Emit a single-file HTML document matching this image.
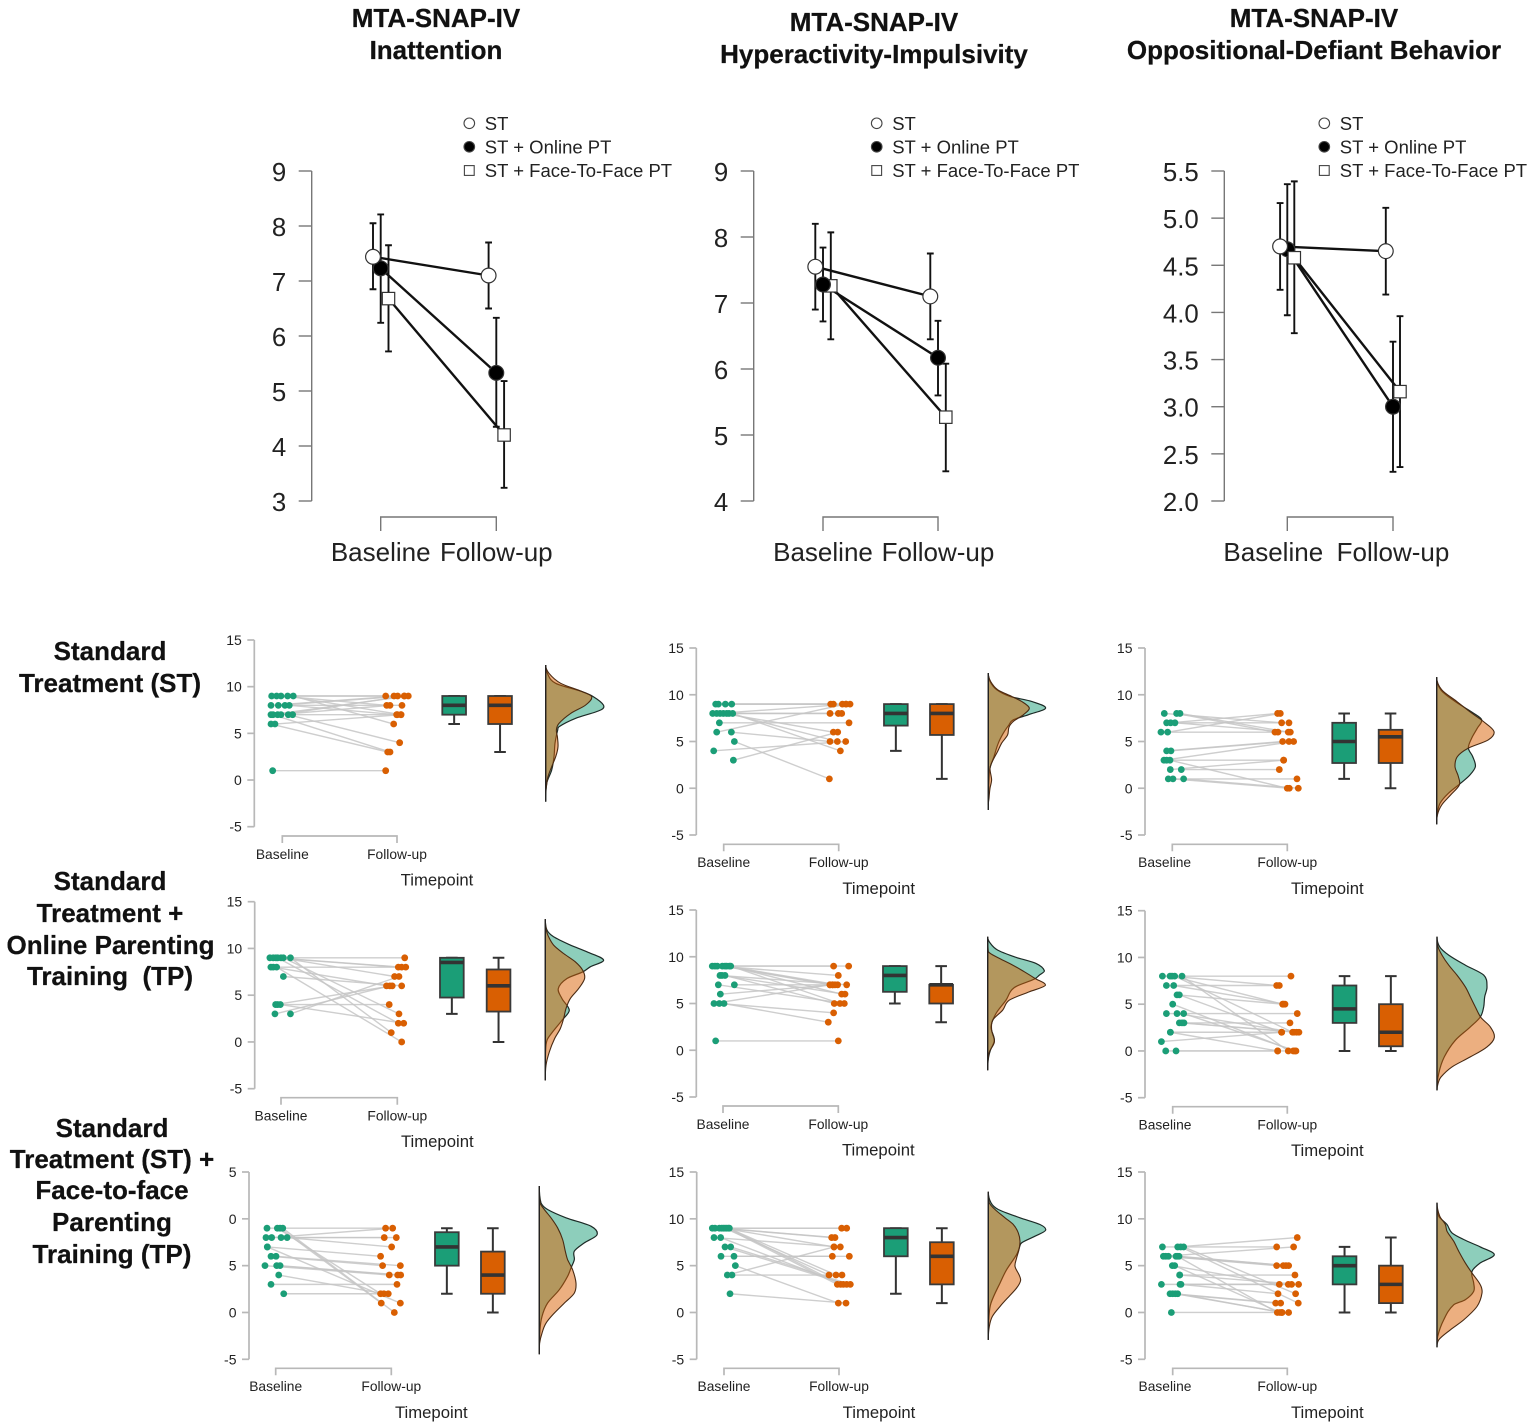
<!DOCTYPE html>
<html lang="en">
<head>
<meta charset="utf-8">
<title>MTA-SNAP-IV outcomes by treatment group</title>
<style>
html,body{margin:0;padding:0;background:#fff;}
svg{display:block;font-family:"Liberation Sans",Arial,sans-serif;}
.head{font-weight:bold;font-size:26px;fill:#111;stroke:#111;stroke-width:.25px;text-anchor:middle;white-space:pre;}
</style>
</head>
<body>
<svg id="figure" width="1535" height="1427" viewBox="0 0 1535 1427" xmlns="http://www.w3.org/2000/svg">
  <rect width="1535" height="1427" fill="#fff"/>
  <g>
    <text class="head" x="436" y="27">MTA-SNAP-IV</text>
    <text class="head" x="436" y="59">Inattention</text>
    <text class="head" x="874" y="31">MTA-SNAP-IV</text>
    <text class="head" x="874" y="63">Hyperactivity-Impulsivity</text>
    <text class="head" x="1314" y="27">MTA-SNAP-IV</text>
    <text class="head" x="1314" y="59">Oppositional-Defiant Behavior</text>
  </g>
  <g>
    <text class="head" x="110" y="660">Standard</text>
    <text class="head" x="110" y="692">Treatment (ST)</text>
    <text class="head" x="110" y="890">Standard</text>
    <text class="head" x="110" y="922">Treatment +</text>
    <text class="head" x="110.5" y="954">Online Parenting</text>
    <text class="head" x="110" y="985">Training  (TP)</text>
    <text class="head" x="112" y="1137">Standard</text>
    <text class="head" x="112" y="1168">Treatment (ST) +</text>
    <text class="head" x="112" y="1199">Face-to-face</text>
    <text class="head" x="112" y="1231">Parenting</text>
    <text class="head" x="112" y="1263">Training (TP)</text>
  </g>
</svg>
<script>
/* ---------- Top row: group means with error bars ---------- */
const timepoints = ['Baseline', 'Follow-up'];
const legendLabels = ['ST', 'ST + Online PT', 'ST + Face-To-Face PT'];

const inattTicks = [3, 4, 5, 6, 7, 8, 9];
const inattTickLabels = ['3', '4', '5', '6', '7', '8', '9'];
const inattSt = [7.44, 7.10];
const inattStLow = [6.85, 6.50];
const inattStHigh = [8.05, 7.70];
const inattOnline = [7.23, 5.33];
const inattOnlineLow = [6.24, 4.35];
const inattOnlineHigh = [8.21, 6.33];
const inattF2f = [6.68, 4.20];
const inattF2fLow = [5.72, 3.24];
const inattF2fHigh = [7.65, 5.18];

const hyperTicks = [4, 5, 6, 7, 8, 9];
const hyperTickLabels = ['4', '5', '6', '7', '8', '9'];
const hyperSt = [7.55, 7.10];
const hyperStLow = [6.90, 6.45];
const hyperStHigh = [8.20, 7.75];
const hyperOnline = [7.28, 6.17];
const hyperOnlineLow = [6.72, 5.60];
const hyperOnlineHigh = [7.84, 6.73];
const hyperF2f = [7.26, 5.27];
const hyperF2fLow = [6.45, 4.45];
const hyperF2fHigh = [8.07, 6.08];

const oppTicks = [2, 2.5, 3, 3.5, 4, 4.5, 5, 5.5];
const oppTickLabels = ['2.0', '2.5', '3.0', '3.5', '4.0', '4.5', '5.0', '5.5'];
const oppSt = [4.70, 4.65];
const oppStLow = [4.24, 4.19];
const oppStHigh = [5.16, 5.11];
const oppOnline = [4.67, 3.00];
const oppOnlineLow = [3.97, 2.31];
const oppOnlineHigh = [5.36, 3.69];
const oppF2f = [4.58, 3.16];
const oppF2fLow = [3.78, 2.36];
const oppF2fHigh = [5.39, 3.96];

/* ---------- Lower rows: raincloud plots ---------- */
const cloudTicks = [-5, 0, 5, 10, 15];
const cloudTickLabels = ['-5', '0', '5', '10', '15'];
const clippedTickLabels = ['-5', '0', '5', '0', '5'];
const jitterUnitsPerTimepoint = 345;

/* r1c1: ST, inattention */
const r1c1BaseScores = [9,9,9,9,9,8,8,8,8,7,7,7,7,7,6,7,6,1];
const r1c1BaseJitter = [-32,-17,-4,16,33,-34,-12,8,21,-34,-14,-4,18,31,-34,-28,-22,-29];
const r1c1FollowScores = [9,9,8,7,6,9,9,8,7,9,8,9,4,7,3,3,7,1];
const r1c1FollowJitter = [-34,-9,-31,12,-10,2,22,15,-1,34,-21,22,8,1,-28,-21,12,-34];
const r1c1BaseBox = [6,7,8,9,9];
const r1c1FollowBox = [3,6,8,9,9];
const r1c1BaseLevels = [12.32,11.43,10.36,9.46,8.93,8.04,7.5,6.61,5.71,5.36,3.93,2.5,1.07,-0.36,-2.32];
const r1c1BaseDensity = [0,.05,.30,1.10,1.43,1.73,1.65,.90,.40,.36,.28,.25,.18,.03,0];
const r1c1FollowLevels = [12.32,11.43,10.36,9.46,8.93,8.04,7.14,6.07,5.36,4.64,3.57,2.5,1.43,.36,-.71,-1.43];
const r1c1FollowDensity = [0,.10,.45,1.10,1.38,1.20,.75,.40,.32,.35,.37,.30,.18,.07,.02,0];

/* r1c2: ST, hyperactivity */
const r1c2BaseScores = [9,9,9,9,8,8,8,8,8,8,8,7,6,6,5,4,3];
const r1c2BaseJitter = [-24,-16,5,24,-33,-21,-11,-1,16,27,9,-13,-21,23,32,-30,29];
const r1c2FollowScores = [9,9,9,9,8,9,8,6,5,4,8,7,9,5,1,5,6];
const r1c2FollowJitter = [-24,-16,11,22,-26,34,-1,-16,-4,5,9,31,22,-26,-28,21,-3];
const r1c2BaseBox = [4,6.7,8,9,9];
const r1c2FollowBox = [1,5.7,8,9,9];
const r1c2BaseLevels = [12.32,11.43,10.54,9.82,9.29,8.57,7.86,7.32,6.79,5.89,4.82,3.39,2.14,.89,-.54,-2.32];
const r1c2BaseDensity = [0,.05,.25,.65,1.30,1.72,1.20,.75,.62,.45,.30,.17,.05,.02,.01,0];
const r1c2FollowLevels = [12.32,11.43,10.54,9.82,9.29,8.57,7.86,7.14,6.54,5.71,4.82,3.93,2.86,2.14,.89,0,-1.07,-1.79];
const r1c2FollowDensity = [0,.07,.28,.70,1.0,1.23,1.05,.75,.62,.58,.40,.28,.12,.05,.10,.05,.02,0];

/* r1c3: ST, oppositional */
const r1c3BaseScores = [8,8,8,7,7,7,6,6,4,4,3,3,3,2,2,1,1,1];
const r1c3BaseJitter = [-24,13,23,-17,-5,8,-34,-14,-17,-4,-25,-17,-7,-6,27,-12,2,34];
const r1c3FollowScores = [7,6,6,7,8,6,6,8,5,5,5,3,0,3,2,1,0,0];
const r1c3FollowJitter = [-17,-37,3,5,-29,9,-28,-21,-14,5,19,-11,0,-11,-24,29,6,33];
const r1c3BaseBox = [1,2.7,5,7,8];
const r1c3FollowBox = [0,2.7,5.5,6.25,8];
const r1c3BaseLevels = [11.89,10.54,9.29,8.04,7.32,6.43,5.36,4.29,3.39,2.32,1.43,.54,-.54,-1.61,-2.68,-3.86];
const r1c3BaseDensity = [0,.12,.55,1.10,1.35,1.22,1.05,.95,1.08,1.16,1.0,.72,.35,.10,.02,0];
const r1c3FollowLevels = [11.89,10.54,9.29,8.04,7.14,6.07,5.18,4.29,3.39,2.32,1.25,.36,-.71,-1.79,-2.86,-3.86];
const r1c3FollowDensity = [0,.15,.60,1.05,1.40,1.72,1.55,.95,.62,.55,.65,.68,.42,.15,.02,0];

/* r2c1: online, inattention */
const r2c1BaseScores = [9,9,9,9,9,9,9,8,8,8,7,4,4,4,3,3];
const r2c1BaseJitter = [-33,-23,-15,0,7,28,-10,-30,-23,-13,7,-16,-10,-2,-18,28];
const r2c1FollowScores = [9,8,8,7,3,1,2,8,6,0,6,6,4,2,6,7];
const r2c1FollowJitter = [22,3,13,-8,5,-18,3,25,-32,13,13,-15,-24,19,-22,5];
const r2c1BaseBox = [3,4.75,8.5,9,9];
const r2c1FollowBox = [0,3.25,6,7.75,9];
const r2c1BaseLevels = [13.14,11.96,11.25,10.36,9.64,8.75,8.04,7.5,6.79,5.71,4.64,3.39,2.32,1.07,.18,-1.07,-4.11];
const r2c1BaseDensity = [0,.05,.25,.75,1.25,1.75,1.35,1.13,.65,.39,.50,.72,.50,.22,.05,.01,0];
const r2c1FollowLevels = [13.14,11.96,11.25,10.36,9.46,8.57,7.68,6.79,5.71,4.64,3.57,2.5,1.43,.36,-1.07,-2.5,-4.11];
const r2c1FollowDensity = [0,.03,.10,.25,.55,.90,1.12,1.18,1.0,.75,.62,.55,.45,.28,.12,.02,0];

/* r2c2: online, hyperactivity */
const r2c2BaseScores = [9,9,9,9,9,9,9,9,8,8,8,7,7,6,5,5,5,1];
const r2c2BaseJitter = [-32,-24,-17,-2,6,11,19,23,-9,-3,6,-14,34,-8,-27,-11,3,-22];
const r2c2FollowScores = [9,9,8,7,7,7,6,5,7,6,5,5,7,7,7,4,3,1];
const r2c2FollowJitter = [-14,31,0,-25,-17,-2,10,5,25,20,-12,18,-10,-17,-25,-14,-30,0];
const r2c2BaseBox = [5,6.25,8,9,9];
const r2c2FollowBox = [3,5,7,7,9];
const r2c2BaseLevels = [12.14,11.43,10.71,10,9.29,8.5,8.04,7.61,6.71,5.36,3.93,2.5,1.07,0,-.89,-2.14];
const r2c2BaseDensity = [0,.08,.30,.80,1.45,1.70,1.55,1.40,.80,.55,.25,.10,.20,.08,.02,0];
const r2c2FollowLevels = [12.14,10.54,9.82,9.11,8.39,7.68,6.96,6.25,5.36,4.29,3.21,2.14,.89,-.18,-1.07,-2.14];
const r2c2FollowDensity = [0,.02,.35,.75,1.10,1.42,1.73,1.25,.65,.45,.15,.12,.20,.05,.01,0];

/* r2c3: online, oppositional */
const r2c3BaseScores = [8,8,8,8,8,7,7,6,6,5,4,4,4,3,3,3,2,2,1,0,0];
const r2c3BaseJitter = [-31,-8,-2,6,28,-19,3,13,20,0,-19,13,33,20,28,34,-7,-7,-34,-21,10];
const r2c3FollowScores = [8,7,5,2,0,7,5,5,2,0,4,2,0,3,2,2,2,0,2,0,0];
const r2c3FollowJitter = [11,-32,-14,16,3,-24,-7,-12,-17,18,30,20,26,8,28,35,-17,-29,-17,-29,23];
const r2c3BaseBox = [0,3,4.5,7,8];
const r2c3FollowBox = [0,.5,2,5,8];
const r2c3BaseLevels = [12.21,11.14,10.25,9.18,8.11,6.86,5.79,4.71,3.64,2.57,1.14,-.64,-2.43,-4.21];
const r2c3BaseDensity = [0,.08,.35,.85,1.40,1.50,1.43,1.40,1.30,1.0,.55,.22,.05,0];
const r2c3FollowLevels = [12.21,11.14,10.25,9.18,8.11,6.86,5.79,4.71,3.57,2.57,1.43,.43,-.64,-1.71,-2.79,-3.5,-4.21];
const r2c3FollowDensity = [0,.03,.15,.35,.60,.85,1.0,1.15,1.32,1.60,1.72,1.50,1.0,.45,.12,.03,0];

/* r3c1: face-to-face, inattention */
const r3c1BaseScores = [9,9,9,9,8,8,8,8,7,7,6,6,5,5,5,4,3,2];
const r3c1BaseJitter = [-26,5,13,21,-29,-12,16,34,-25,-25,-14,1,-32,3,13,9,-14,24];
const r3c1FollowScores = [9,2,1,0,8,9,8,7,1,6,5,5,4,4,4,2,3,2];
const r3c1FollowJitter = [-17,-32,-30,9,-21,4,15,1,27,-32,-26,27,-6,19,28,-22,17,-9];
const r3c1BaseBox = [2,5,7,8.57,9];
const r3c1FollowBox = [0,2,4,6.5,9];
const r3c1BaseLevels = [13.5,11.71,11,10.11,9.21,8.29,7.43,6.54,5.64,4.75,3.86,2.43,1,-.43,-1.86,-4.46];
const r3c1BaseDensity = [0,.05,.25,.80,1.55,1.73,1.35,1.05,1.05,.95,.85,.60,.25,.08,.02,0];
const r3c1FollowLevels = [13.5,11.71,11,10.11,9.04,7.79,6.54,5.64,4.57,3.14,2.07,1,-.07,-1.14,-2.21,-3.29,-4.46];
const r3c1FollowDensity = [0,.02,.15,.35,.55,.70,.78,.85,1.0,1.10,1.05,.75,.45,.20,.08,.01,0];

/* r3c2: face-to-face, hyperactivity */
const r3c2BaseScores = [9,9,9,9,9,9,9,9,9,8,8,7,7,6,6,5,4,4,2];
const r3c2BaseJitter = [-35,-27,-14,-7,-2,3,8,13,16,-30,-10,3,20,-9,30,34,10,24,18];
const r3c2FollowScores = [9,9,8,8,7,4,3,4,3,7,3,3,3,6,6,1,7,4,1];
const r3c2FollowJitter = [8,23,-22,-12,-15,-30,-5,-9,5,4,13,23,34,-20,31,-2,-15,9,21];
const r3c2BaseBox = [2,6,8,9,9];
const r3c2FollowBox = [1,3,6,7.5,9];
const r3c2BaseLevels = [12.89,11.71,11,10.11,9.39,8.79,8.14,7.43,6.89,6.18,4.57,3.14,1,-.43,-2.93];
const r3c2BaseDensity = [0,.08,.30,.95,1.55,1.72,1.40,1.0,.93,.85,.55,.35,.08,.02,0];
const r3c2FollowLevels = [12.89,11.71,11,10.11,9.39,8.5,7.61,6.71,5.82,4.93,4.04,3.43,2.61,1.71,.64,-.43,-1.5,-2.93];
const r3c2FollowDensity = [0,.03,.20,.50,.75,.90,.95,.92,.85,.80,.92,.97,.85,.62,.35,.12,.03,0];

/* r3c3: face-to-face, oppositional */
const r3c3BaseScores = [7,7,7,7,6,6,6,6,6,6,5,5,4,4,3,3,3,2,2,2,2,0];
const r3c3BaseJitter = [-31,15,33,24,-28,-21,-13,10,19,14,-1,6,21,21,-34,22,25,-8,0,8,15,-4];
const r3c3FollowScores = [7,8,2,1,7,5,5,5,5,0,3,0,4,3,3,3,2,1,1,0,0,0];
const r3c3FollowJitter = [-32,30,25,33,19,-32,-12,-4,4,-30,-24,-22,23,34,3,13,-28,-35,-20,-16,-16,4];
const r3c3BaseBox = [0,3,5,6,7];
const r3c3FollowBox = [0,1,3,5,8];
const r3c3BaseLevels = [11.71,10.29,9.39,8.5,7.79,7,6.18,5.29,4.39,3.14,2.25,1.36,.82,-.79,-2.57,-3.71];
const r3c3BaseDensity = [0,.05,.30,.45,.80,1.30,1.72,1.30,1.05,1.10,1.10,.85,.50,.20,.02,0];
const r3c3FollowLevels = [11.71,10.29,9.39,8.68,7.61,6.54,5.29,4.21,2.96,2.07,.64,-.79,-1.86,-2.93,-3.71];
const r3c3FollowDensity = [0,.08,.25,.30,.50,.65,.85,1.05,1.30,1.35,1.20,.80,.40,.05,0];

/* ---------- Drawing ---------- */
const SVG_NS = 'http://www.w3.org/2000/svg';
const TEAL = '#1b9e77';
const ORANGE = '#d95f02';
const figure = document.getElementById('figure');

function make(parent, tag, attrs, text) {
  const el = document.createElementNS(SVG_NS, tag);
  for (const k in attrs) el.setAttribute(k, attrs[k]);
  if (text !== undefined) el.textContent = text;
  parent.appendChild(el);
  return el;
}
function linearScale(d0, d1, r0, r1) {
  return v => r0 + (v - d0) * (r1 - r0) / (d1 - d0);
}
/* Cubic Hermite curve through the sampled density, treated as width = f(y). */
function smoothPath(levels, density, yOf, widthOf) {
  const ys = levels.map(yOf);
  const ws = density.map(widthOf);
  const n = ys.length;
  const floor = widthOf(0);
  const slope = ys.map((_, i) => (i === 0 || i === n - 1) ? 0 : (ws[i + 1] - ws[i - 1]) / (ys[i + 1] - ys[i - 1]));
  let d = 'M' + ws[0].toFixed(1) + ' ' + ys[0].toFixed(1);
  for (let i = 0; i < n - 1; i++) {
    const h = ys[i + 1] - ys[i];
    const c1x = Math.max(floor, ws[i] + slope[i] * h / 3);
    const c2x = Math.max(floor, ws[i + 1] - slope[i + 1] * h / 3);
    d += 'C' + c1x.toFixed(1) + ' ' + (ys[i] + h / 3).toFixed(1) + ' ' + c2x.toFixed(1) + ' ' + (ys[i + 1] - h / 3).toFixed(1) + ' ' + ws[i + 1].toFixed(1) + ' ' + ys[i + 1].toFixed(1);
  }
  return d;
}

function drawMeansPanel(name, layout, ticks, tickLabels, groups) {
  const g = make(figure, 'g', {});
  
  
  const y = linearScale(ticks[0], ticks[ticks.length - 1], 501, 171);
  const x = linearScale(0, 1, layout.tick0, layout.tick1);
  const axisColor = '#777';

  const yAxis = make(g, 'line', {x1: layout.axisX, x2: layout.axisX, y1: y(ticks[0]), y2: y(ticks[ticks.length - 1]), stroke: axisColor, 'stroke-width': 1.4});
  
  
  ticks.forEach((t, i) => {
    const tick = make(g, 'line', {x1: layout.axisX - 13, x2: layout.axisX, y1: y(t), y2: y(t), stroke: axisColor, 'stroke-width': 1.4});
    
    
    const label = make(g, 'text', {x: layout.axisX - 25.5, y: y(t) + 10, 'text-anchor': 'end', 'font-size': 25.8, fill: '#222'}, tickLabels[i]);
    
    
  });

  const xAxis = make(g, 'path', {d: 'M' + x(0) + ' 531V517H' + x(1) + 'V531', fill: 'none', stroke: axisColor, 'stroke-width': 1.4});
  
  
  timepoints.forEach((t, i) => {
    const label = make(g, 'text', {x: x(i) + (i === 0 ? layout.baseLabelShift : 0), y: 561, 'text-anchor': 'middle', 'font-size': 26, fill: '#222'}, t);
    
    
  });

  /* error bars */
  groups.forEach(gr => {
    gr.means.forEach((m, i) => {
      const px = x(i) + gr.offset;
      const bar = make(g, 'path', {
        d: 'M' + px + ' ' + y(gr.low[i]) + 'V' + y(gr.high[i]) +
           'M' + (px - 3.4) + ' ' + y(gr.low[i]) + 'H' + (px + 3.4) +
           'M' + (px - 3.4) + ' ' + y(gr.high[i]) + 'H' + (px + 3.4),
        fill: 'none', stroke: '#111', 'stroke-width': 1.9});
      
      
    });
  });
  /* group lines */
  groups.forEach(gr => {
    const ln = make(g, 'line', {x1: x(0) + gr.offset, y1: y(gr.means[0]), x2: x(1) + gr.offset, y2: y(gr.means[1]), stroke: '#111', 'stroke-width': 2.4});
    
    
  });
  /* markers */
  groups.slice().sort((a, b) => a.order - b.order).forEach(gr => {
    gr.means.forEach((m, i) => {
      const px = x(i) + gr.offset, py = y(m);
      let mk;
      if (gr.shape === 'square') {
        mk = make(g, 'rect', {x: px - 6.2, y: py - 6.2, width: 12.4, height: 12.4, fill: '#fff', stroke: '#333', 'stroke-width': 1.2});
      } else {
        mk = make(g, 'circle', {cx: px, cy: py, r: 7.4, fill: gr.shape === 'filled' ? '#000' : '#fff', stroke: '#333', 'stroke-width': 1.2});
      }
      
      
    });
  });

  /* legend */
  const shapes = ['open', 'filled', 'square'];
  const legendRows = [123.3, 146.8, 170.5];
  legendLabels.forEach((lab, i) => {
    const ly = legendRows[i];
    let mk;
    if (shapes[i] === 'square') {
      mk = make(g, 'rect', {x: layout.legendX - 4.9, y: ly - 4.9, width: 9.8, height: 9.8, fill: '#fff', stroke: '#444', 'stroke-width': 1.1});
    } else {
      mk = make(g, 'circle', {cx: layout.legendX, cy: ly, r: 5.3, fill: shapes[i] === 'filled' ? '#000' : '#fff', stroke: '#444', 'stroke-width': 1.1});
    }
    
    
    const txt = make(g, 'text', {x: layout.legendX + 15.5, y: ly + 6.5, 'font-size': 18.5, fill: '#222'}, lab);
    
    
  });
}

function drawBox(g, stats, left, right, y, color) {
  const cx = (left + right) / 2;
  const whisker = make(g, 'path', {
    d: 'M' + cx + ' ' + y(stats[0]) + 'V' + y(stats[4]) +
       'M' + (cx - 5.8) + ' ' + y(stats[0]) + 'H' + (cx + 5.8) +
       'M' + (cx - 5.8) + ' ' + y(stats[4]) + 'H' + (cx + 5.8),
    fill: 'none', stroke: '#333', 'stroke-width': 2});
  
  
  const box = make(g, 'rect', {x: left, y: y(stats[3]), width: right - left, height: y(stats[1]) - y(stats[3]), fill: color, stroke: '#3a3a3a', 'stroke-width': 1.8});
  
  
  const med = make(g, 'line', {x1: left, x2: right, y1: y(stats[2]), y2: y(stats[2]), stroke: '#333', 'stroke-width': 3.6});
  
  
}

function drawCloud(name, lay, tickLabels, d) {
  const g = make(figure, 'g', {});
  
  
  const y = linearScale(15, -5, lay.yTop, lay.yBottom);
  const t = linearScale(0, 1, lay.xBase, lay.xFollow);
  const w = linearScale(0, 1, lay.violinX, lay.violinX + 100 / 3);
  const axisColor = '#b8b8b8';

  const yAxis = make(g, 'line', {x1: lay.axisX, x2: lay.axisX, y1: lay.yTop, y2: lay.yBottom, stroke: axisColor, 'stroke-width': 1.7});
  
  
  cloudTicks.forEach((v, i) => {
    const tick = make(g, 'line', {x1: lay.axisX - 7, x2: lay.axisX, y1: y(v), y2: y(v), stroke: axisColor, 'stroke-width': 1.7});
    
    
    const label = make(g, 'text', {x: lay.axisX - 12.5, y: y(v) + 5, 'text-anchor': 'end', 'font-size': 14, fill: '#222'}, tickLabels[i]);
    
    
  });

  const xAxis = make(g, 'path', {d: 'M' + t(0) + ' ' + (lay.axisY + 7) + 'V' + lay.axisY + 'H' + t(1) + 'V' + (lay.axisY + 7), fill: 'none', stroke: axisColor, 'stroke-width': 1.7});
  
  
  timepoints.forEach((tp, i) => {
    const label = make(g, 'text', {x: t(i) + (i === 0 ? lay.baseLabelShift : 0), y: lay.axisY + 22.8, 'text-anchor': 'middle', 'font-size': 13.8, fill: '#222'}, tp);
    
    
  });
  const xTitle = make(g, 'text', {x: lay.xFollow + 40, y: lay.axisY + 49.5, 'text-anchor': 'middle', 'font-size': 16.7, fill: '#222'}, 'Timepoint');
  
  

  /* paired lines */
  d.baseScores.forEach((s, i) => {
    const ln = make(g, 'line', {
      x1: t(d.baseJitter[i] / jitterUnitsPerTimepoint), y1: y(s),
      x2: t(1 + d.followJitter[i] / jitterUnitsPerTimepoint), y2: y(d.followScores[i]),
      stroke: '#c6c6c6', 'stroke-width': 1.4, 'stroke-opacity': .85});
    
    
  });
  /* points */
  d.baseScores.forEach((s, i) => {
    const dot = make(g, 'circle', {cx: t(d.baseJitter[i] / jitterUnitsPerTimepoint), cy: y(s), r: 3.4, fill: TEAL});
    
    
  });
  d.followScores.forEach((s, i) => {
    const dot = make(g, 'circle', {cx: t(1 + d.followJitter[i] / jitterUnitsPerTimepoint), cy: y(s), r: 3.4, fill: ORANGE});
    
    
  });

  drawBox(g, d.baseBox, lay.box1, lay.box1 + 23.7, y, TEAL);
  drawBox(g, d.followBox, lay.box2, lay.box2 + 23.7, y, ORANGE);

  /* flanking densities */
  const teal = make(g, 'path', {d: smoothPath(d.baseLevels, d.baseDensity, y, w) + 'Z', fill: TEAL, 'fill-opacity': .5, stroke: '#1c2a26', 'stroke-width': 1.2});
  
  
  const orange = make(g, 'path', {d: smoothPath(d.followLevels, d.followDensity, y, w) + 'Z', fill: ORANGE, 'fill-opacity': .5, stroke: '#4a2a12', 'stroke-width': 1.1});
  
  
  const spine = make(g, 'line', {
    x1: lay.violinX, x2: lay.violinX,
    y1: y(Math.max(d.baseLevels[0], d.followLevels[0])),
    y2: y(Math.min(d.baseLevels[d.baseLevels.length - 1], d.followLevels[d.followLevels.length - 1])),
    stroke: '#222', 'stroke-width': 1.3});
  
  
}

drawMeansPanel('means-panel-inattention', {axisX: 311.7, tick0: 380.7, tick1: 496.3, legendX: 469.3, baseLabelShift: 0}, inattTicks, inattTickLabels, [
  {shape: 'open', order: 3, offset: -7.7, means: inattSt, low: inattStLow, high: inattStHigh},
  {shape: 'filled', order: 2, offset: 0, means: inattOnline, low: inattOnlineLow, high: inattOnlineHigh},
  {shape: 'square', order: 1, offset: 7.8, means: inattF2f, low: inattF2fLow, high: inattF2fHigh}
]);
drawMeansPanel('means-panel-hyperactivity', {axisX: 753.7, tick0: 823, tick1: 938, legendX: 876.7, baseLabelShift: 0}, hyperTicks, hyperTickLabels, [
  {shape: 'open', order: 3, offset: -7.7, means: hyperSt, low: hyperStLow, high: hyperStHigh},
  {shape: 'filled', order: 2, offset: 0, means: hyperOnline, low: hyperOnlineLow, high: hyperOnlineHigh},
  {shape: 'square', order: 1, offset: 7.8, means: hyperF2f, low: hyperF2fLow, high: hyperF2fHigh}
]);
drawMeansPanel('means-panel-oppositional', {axisX: 1224.3, tick0: 1287.3, tick1: 1393, legendX: 1324.3, baseLabelShift: -14}, oppTicks, oppTickLabels, [
  {shape: 'open', order: 3, offset: -7.2, means: oppSt, low: oppStLow, high: oppStHigh},
  {shape: 'filled', order: 1, offset: 0, means: oppOnline, low: oppOnlineLow, high: oppOnlineHigh},
  {shape: 'square', order: 2, offset: 7, means: oppF2f, low: oppF2fLow, high: oppF2fHigh}
]);

drawCloud('raincloud-st-inattention', {axisX: 254.3, yTop: 640, yBottom: 826.7, axisY: 836, xBase: 282.3, xFollow: 397, box1: 442.3, box2: 488.2, violinX: 545.7, baseLabelShift: 0}, cloudTickLabels,
  {baseScores: r1c1BaseScores, baseJitter: r1c1BaseJitter, followScores: r1c1FollowScores, followJitter: r1c1FollowJitter, baseBox: r1c1BaseBox, followBox: r1c1FollowBox, baseLevels: r1c1BaseLevels, baseDensity: r1c1BaseDensity, followLevels: r1c1FollowLevels, followDensity: r1c1FollowDensity});
drawCloud('raincloud-st-hyperactivity', {axisX: 696.3, yTop: 648, yBottom: 835, axisY: 844.3, xBase: 723.7, xFollow: 838.7, box1: 884, box2: 930, violinX: 988.3, baseLabelShift: 0}, cloudTickLabels,
  {baseScores: r1c2BaseScores, baseJitter: r1c2BaseJitter, followScores: r1c2FollowScores, followJitter: r1c2FollowJitter, baseBox: r1c2BaseBox, followBox: r1c2FollowBox, baseLevels: r1c2BaseLevels, baseDensity: r1c2BaseDensity, followLevels: r1c2FollowLevels, followDensity: r1c2FollowDensity});
drawCloud('raincloud-st-oppositional', {axisX: 1145, yTop: 648, yBottom: 835, axisY: 844.3, xBase: 1172.3, xFollow: 1287.3, box1: 1332.3, box2: 1378.7, violinX: 1436.7, baseLabelShift: -7.7}, cloudTickLabels,
  {baseScores: r1c3BaseScores, baseJitter: r1c3BaseJitter, followScores: r1c3FollowScores, followJitter: r1c3FollowJitter, baseBox: r1c3BaseBox, followBox: r1c3FollowBox, baseLevels: r1c3BaseLevels, baseDensity: r1c3BaseDensity, followLevels: r1c3FollowLevels, followDensity: r1c3FollowDensity});

drawCloud('raincloud-online-inattention', {axisX: 254.7, yTop: 901.7, yBottom: 1088.7, axisY: 1097.7, xBase: 281, xFollow: 397.3, box1: 440, box2: 486.7, violinX: 545.3, baseLabelShift: 0}, cloudTickLabels,
  {baseScores: r2c1BaseScores, baseJitter: r2c1BaseJitter, followScores: r2c1FollowScores, followJitter: r2c1FollowJitter, baseBox: r2c1BaseBox, followBox: r2c1FollowBox, baseLevels: r2c1BaseLevels, baseDensity: r2c1BaseDensity, followLevels: r2c1FollowLevels, followDensity: r2c1FollowDensity});
drawCloud('raincloud-online-hyperactivity', {axisX: 696.3, yTop: 910, yBottom: 1097, axisY: 1106, xBase: 723, xFollow: 838.3, box1: 883, box2: 929.3, violinX: 987.7, baseLabelShift: 0}, cloudTickLabels,
  {baseScores: r2c2BaseScores, baseJitter: r2c2BaseJitter, followScores: r2c2FollowScores, followJitter: r2c2FollowJitter, baseBox: r2c2BaseBox, followBox: r2c2FollowBox, baseLevels: r2c2BaseLevels, baseDensity: r2c2BaseDensity, followLevels: r2c2FollowLevels, followDensity: r2c2FollowDensity});
drawCloud('raincloud-online-oppositional', {axisX: 1145, yTop: 910.7, yBottom: 1097.7, axisY: 1106.7, xBase: 1172.7, xFollow: 1287.3, box1: 1332.7, box2: 1379, violinX: 1437, baseLabelShift: -7.7}, cloudTickLabels,
  {baseScores: r2c3BaseScores, baseJitter: r2c3BaseJitter, followScores: r2c3FollowScores, followJitter: r2c3FollowJitter, baseBox: r2c3BaseBox, followBox: r2c3FollowBox, baseLevels: r2c3BaseLevels, baseDensity: r2c3BaseDensity, followLevels: r2c3FollowLevels, followDensity: r2c3FollowDensity});

drawCloud('raincloud-f2f-inattention', {axisX: 249, yTop: 1172, yBottom: 1359.3, axisY: 1368.3, xBase: 275.7, xFollow: 391.3, box1: 435, box2: 481, violinX: 539.3, baseLabelShift: 0}, clippedTickLabels,
  {baseScores: r3c1BaseScores, baseJitter: r3c1BaseJitter, followScores: r3c1FollowScores, followJitter: r3c1FollowJitter, baseBox: r3c1BaseBox, followBox: r3c1FollowBox, baseLevels: r3c1BaseLevels, baseDensity: r3c1BaseDensity, followLevels: r3c1FollowLevels, followDensity: r3c1FollowDensity});
drawCloud('raincloud-f2f-hyperactivity', {axisX: 696.7, yTop: 1172, yBottom: 1359.3, axisY: 1368.3, xBase: 724, xFollow: 839, box1: 884, box2: 930, violinX: 988.3, baseLabelShift: 0}, cloudTickLabels,
  {baseScores: r3c2BaseScores, baseJitter: r3c2BaseJitter, followScores: r3c2FollowScores, followJitter: r3c2FollowJitter, baseBox: r3c2BaseBox, followBox: r3c2FollowBox, baseLevels: r3c2BaseLevels, baseDensity: r3c2BaseDensity, followLevels: r3c2FollowLevels, followDensity: r3c2FollowDensity});
drawCloud('raincloud-f2f-oppositional', {axisX: 1145, yTop: 1172, yBottom: 1359.3, axisY: 1368.3, xBase: 1172.7, xFollow: 1287.3, box1: 1332.7, box2: 1379, violinX: 1437, baseLabelShift: -7.7}, cloudTickLabels,
  {baseScores: r3c3BaseScores, baseJitter: r3c3BaseJitter, followScores: r3c3FollowScores, followJitter: r3c3FollowJitter, baseBox: r3c3BaseBox, followBox: r3c3FollowBox, baseLevels: r3c3BaseLevels, baseDensity: r3c3BaseDensity, followLevels: r3c3FollowLevels, followDensity: r3c3FollowDensity});
</script>
</body>
</html>
